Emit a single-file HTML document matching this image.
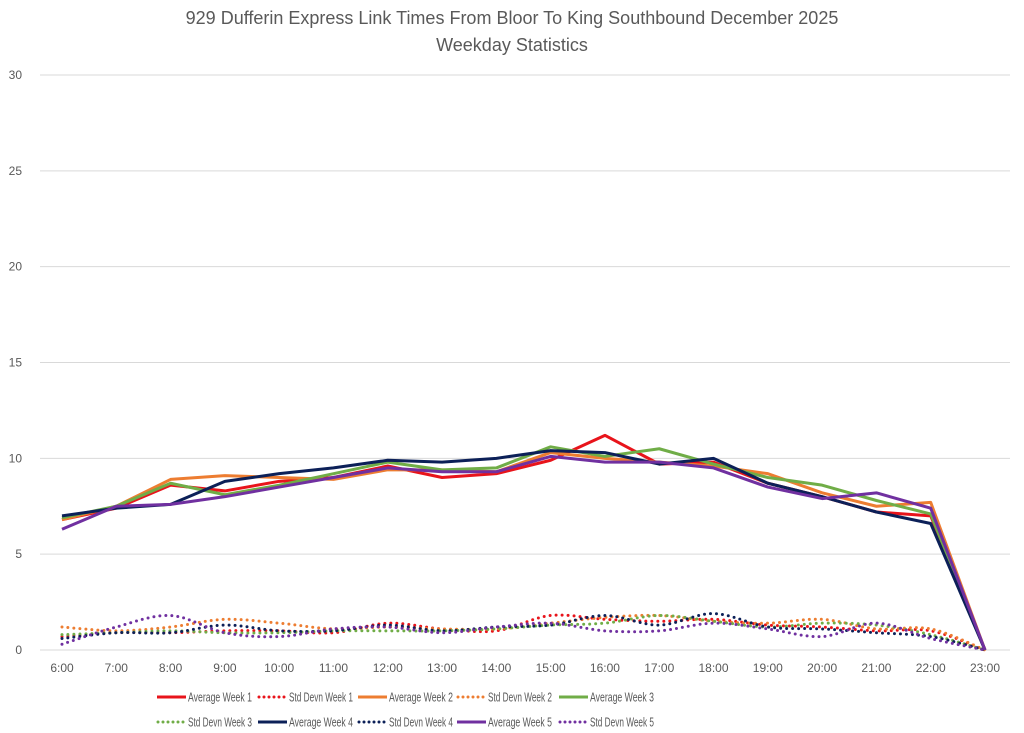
<!DOCTYPE html>
<html><head><meta charset="utf-8"><style>
body{margin:0;background:#fff;}
svg{display:block;font-family:"Liberation Sans",sans-serif;}
</style></head><body>
<svg id="chart" width="1024" height="733">
<text x="512" y="24" text-anchor="middle" font-size="18" fill="#595959">929 Dufferin Express Link Times From Bloor To King Southbound December 2025</text>
<text x="512" y="51" text-anchor="middle" font-size="18" fill="#595959">Weekday Statistics</text>
<g id="grid"></g><g id="series"></g><g id="legend"></g>
</svg>
<script>
const categories=["6:00","7:00","8:00","9:00","10:00","11:00","12:00","13:00","14:00","15:00","16:00","17:00","18:00","19:00","20:00","21:00","22:00","23:00"];
const yTicks=[0,5,10,15,20,25,30];
const avgW1=[6.8,7.4,8.6,8.3,8.8,9.0,9.6,9.0,9.2,9.9,11.2,9.7,9.8,8.7,8.0,7.2,7.0,0];
const sdW1=[0.7,0.9,0.9,1.0,1.0,0.9,1.4,1.1,1.0,1.8,1.6,1.5,1.6,1.3,1.2,1.0,1.0,0];
const avgW2=[6.8,7.5,8.9,9.1,9.0,8.9,9.4,9.4,9.3,10.3,10.0,9.8,9.6,9.2,8.2,7.5,7.7,0];
const sdW2=[1.2,1.0,1.2,1.6,1.4,1.1,1.2,1.1,1.1,1.4,1.7,1.8,1.5,1.4,1.6,1.1,1.1,0];
const avgW3=[6.9,7.5,8.7,8.1,8.6,9.2,9.8,9.4,9.5,10.6,10.1,10.5,9.7,9.0,8.6,7.8,7.1,0];
const sdW3=[0.8,0.9,1.0,0.9,0.9,1.0,1.0,1.0,1.1,1.3,1.4,1.8,1.5,1.2,1.4,1.3,0.8,0];
const avgW4=[7.0,7.4,7.6,8.8,9.2,9.5,9.9,9.8,10.0,10.4,10.3,9.7,10.0,8.7,8.0,7.2,6.6,0];
const sdW4=[0.6,0.9,0.9,1.3,1.0,1.0,1.3,1.0,1.2,1.3,1.8,1.3,1.9,1.2,1.1,0.9,0.7,0];
const avgW5=[6.3,7.5,7.6,8.0,8.5,9.0,9.5,9.3,9.3,10.1,9.8,9.8,9.5,8.5,7.9,8.2,7.4,0];
const sdW5=[0.3,1.2,1.8,0.9,0.7,1.1,1.2,0.9,1.2,1.4,1.0,1.0,1.4,1.1,0.7,1.4,0.6,0];
const NS="http://www.w3.org/2000/svg";
const X0=62,X1=985,Y0=650,Y30=75;
const xs=i=>X0+(X1-X0)*i/(categories.length-1);
const ys=v=>Y0-(Y0-Y30)*v/30;
function mk(tag,attrs,parent){const e=document.createElementNS(NS,tag);for(const k in attrs)e.setAttribute(k,attrs[k]);parent.appendChild(e);return e;}
const grid=document.getElementById('grid');
yTicks.forEach(t=>{
  const l=mk('line',{x1:40,x2:1010,y1:ys(t),y2:ys(t),stroke:'#d9d9d9','stroke-width':1},grid);
  
  
  const tx=mk('text',{x:22,y:ys(t)+4,'text-anchor':'end','font-size':12,fill:'#595959'},grid);
  tx.textContent=t;
  
  
});
categories.forEach((c,i)=>{
  const tx=mk('text',{x:xs(i),y:672,'text-anchor':'middle','font-size':12,fill:'#595959'},grid);
  tx.textContent=c;
  
  
});
function smooth(vals){const p=vals.map((v,i)=>[xs(i),ys(v)]);let d='M'+p[0][0]+','+p[0][1];
  for(let i=0;i<p.length-1;i++){const a=p[i-1]||p[i],b=p[i],c=p[i+1],e=p[i+2]||c;
    d+=' C'+(b[0]+(c[0]-a[0])/6)+','+(b[1]+(c[1]-a[1])/6)+' '+(c[0]-(e[0]-b[0])/6)+','+(c[1]-(e[1]-b[1])/6)+' '+c[0]+','+c[1];}
  return d;}
function straight(vals){return vals.map((v,i)=>(i?'L':'M')+xs(i)+','+ys(v)).join(' ');}
const series=[
 {n:'Average Week 1',v:avgW1,c:'#e8141b',dot:false,slug:'avg-week-1'},
 {n:'Std Devn Week 1',v:sdW1,c:'#e8141b',dot:true,slug:'sd-week-1'},
 {n:'Average Week 2',v:avgW2,c:'#ed7d31',dot:false,slug:'avg-week-2'},
 {n:'Std Devn Week 2',v:sdW2,c:'#ed7d31',dot:true,slug:'sd-week-2'},
 {n:'Average Week 3',v:avgW3,c:'#70ad47',dot:false,slug:'avg-week-3'},
 {n:'Std Devn Week 3',v:sdW3,c:'#70ad47',dot:true,slug:'sd-week-3'},
 {n:'Average Week 4',v:avgW4,c:'#0c2058',dot:false,slug:'avg-week-4'},
 {n:'Std Devn Week 4',v:sdW4,c:'#0c2058',dot:true,slug:'sd-week-4'},
 {n:'Average Week 5',v:avgW5,c:'#7030a0',dot:false,slug:'avg-week-5'},
 {n:'Std Devn Week 5',v:sdW5,c:'#7030a0',dot:true,slug:'sd-week-5'}];
const sg=document.getElementById('series');
[1,3,5,7,9,0,2,4,6,8].forEach(k=>{const s=series[k];
  const a=s.dot?{d:smooth(s.v),fill:'none',stroke:s.c,'stroke-width':3,'stroke-dasharray':'0 6','stroke-linecap':'round'}:{d:straight(s.v),fill:'none',stroke:s.c,'stroke-width':3,'stroke-linejoin':'round'};
  const p=mk('path',a,sg);
  
  
});
const lg=document.getElementById('legend');
const lx=[157,258,358,457,559];
series.forEach((s,i)=>{const row=Math.floor(i/5),col=i%5,x=lx[col],y=row?722:697;
  const g=mk('g',{},lg);
  
  
  mk('line',s.dot?{x1:x+1,x2:x+27,y1:y,y2:y,stroke:s.c,'stroke-width':3,'stroke-dasharray':'0 5','stroke-linecap':'round'}:{x1:x,x2:x+29,y1:y,y2:y,stroke:s.c,'stroke-width':3},g);
  const t=mk('text',{x:x+31,y:y+4.5,'font-size':12.5,fill:'#595959',textLength:64,lengthAdjust:'spacingAndGlyphs'},g);
  t.textContent=s.n;
});
</script>
</body></html>
